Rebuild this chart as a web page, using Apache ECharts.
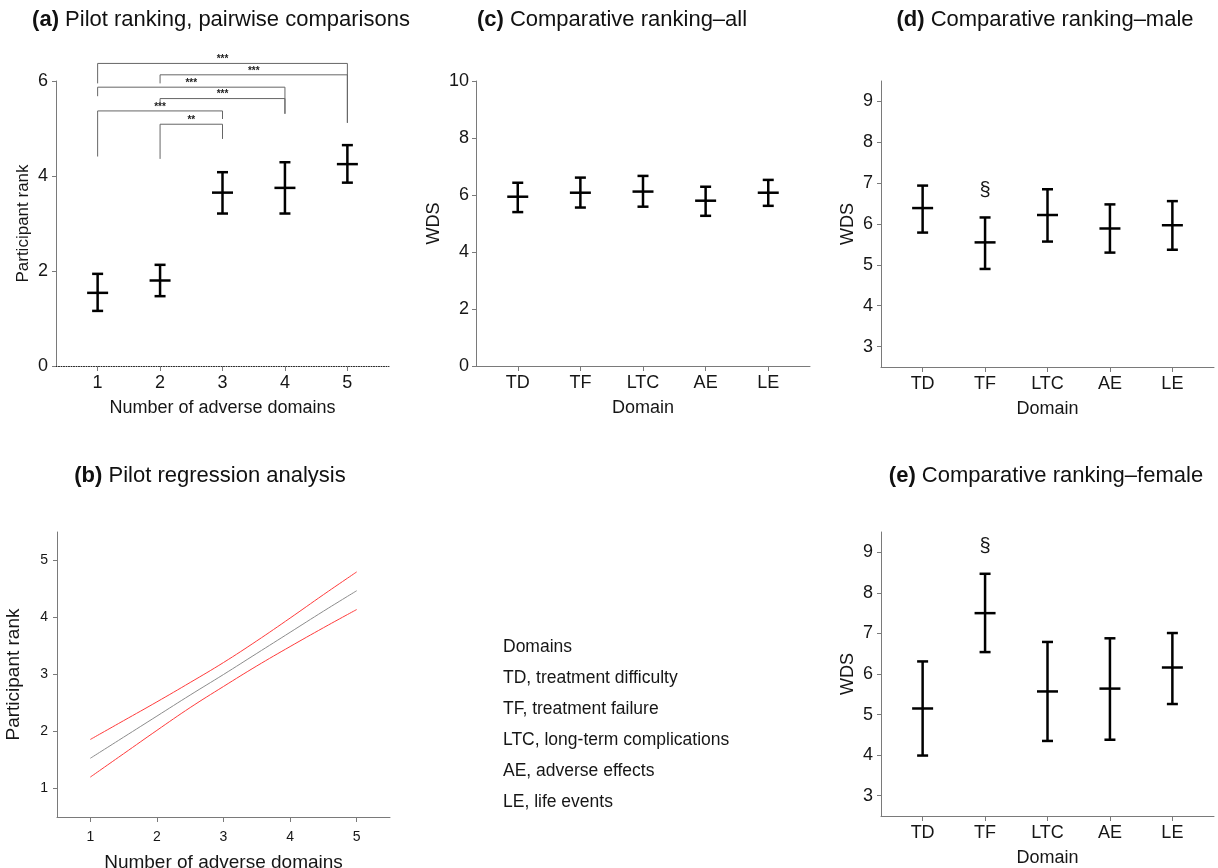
<!DOCTYPE html>
<html>
<head>
<meta charset="utf-8">
<title>Pilot and comparative ranking</title>
<script src="https://cdn.jsdelivr.net/npm/echarts@6/dist/echarts.min.js"></script>
<style>
  html, body { margin: 0; padding: 0; background: #fff; }
  #main { width: 1218px; height: 868px; }
</style>
</head>
<body>
<div id="main"></div>
<script>
// ---- data ----
var domains = ['TD', 'TF', 'LTC', 'AE', 'LE'];
var adverseCount = [1, 2, 3, 4, 5];

// (a) pilot ranking: mean and error range per number of adverse domains
var aMean = [1.54, 1.80, 3.65, 3.75, 4.25];
var aLow  = [1.16, 1.47, 3.21, 3.21, 3.86];
var aHigh = [1.94, 2.13, 4.08, 4.29, 4.65];

// (a) pairwise comparison brackets
var bracketFrom = [1, 2, 1, 2, 1, 2];
var bracketTo   = [5, 5, 4, 4, 3, 3];
var bracketTop  = [6.37, 6.13, 5.87, 5.63, 5.37, 5.09];
var bracketLegL = [5.95, 5.95, 5.68, 5.53, 4.41, 4.36];
var bracketLegR = [5.12, 5.12, 5.31, 5.31, 5.20, 4.78];
var bracketText = ['***', '***', '***', '***', '***', '**'];

// (b) regression fit and confidence limits
var regX     = [1, 1.5, 2, 2.5, 3, 3.5, 4, 4.5, 5];
var regMid   = [1.53, 1.90, 2.27, 2.64, 3.00, 3.37, 3.74, 4.11, 4.47];
var regUpper = [1.86, 2.19, 2.52, 2.86, 3.21, 3.59, 3.99, 4.40, 4.80];
var regLower = [1.20, 1.61, 2.02, 2.42, 2.79, 3.15, 3.49, 3.82, 4.14];

// (c) all
var cMean = [5.94, 6.08, 6.12, 5.80, 6.08];
var cLow  = [5.40, 5.56, 5.59, 5.27, 5.62];
var cHigh = [6.43, 6.61, 6.67, 6.29, 6.53];

// (d) male
var dMean = [6.39, 5.55, 6.22, 5.89, 5.97];
var dLow  = [5.79, 4.90, 5.57, 5.30, 5.37];
var dHigh = [6.94, 6.16, 6.85, 6.48, 6.56];
var dMark = ['', '\u00a7', '', '', ''];

// (e) female
var eMean = [5.15, 7.50, 5.57, 5.64, 6.16];
var eLow  = [3.99, 6.54, 4.35, 4.38, 5.26];
var eHigh = [6.31, 8.47, 6.79, 6.88, 7.01];
var eMark = ['', '\u00a7', '', '', ''];

var legendLines = [
  'Domains',
  'TD, treatment difficulty',
  'TF, treatment failure',
  'LTC, long-term complications',
  'AE, adverse effects',
  'LE, life events'
];

var FONT = '"Liberation Sans", Arial, sans-serif';
var AXIS_GREY = '#7a7a7a';
var TEXT = '#161616';

function errorSeries(gridIdx, means, lows, highs, marks) {
  var rows = means.map(function (m, i) { return [i + 1, m, lows[i], highs[i]]; });
  return {
    type: 'custom',
    xAxisIndex: gridIdx,
    yAxisIndex: gridIdx,
    clip: false,
    silent: true,
    data: rows,
    renderItem: function (params, api) {
      var x = api.value(0);
      var pm = api.coord([x, api.value(1)]);
      var pl = api.coord([x, api.value(2)]);
      var ph = api.coord([x, api.value(3)]);
      var cap = 5.5, half = 10.5;
      function seg(x1, y1, x2, y2) {
        return { type: 'line', shape: { x1: x1, y1: y1, x2: x2, y2: y2 },
                 style: { stroke: '#000', lineWidth: 2.5 } };
      }
      var kids = [
        seg(pm[0], ph[1], pm[0], pl[1]),
        seg(pm[0] - cap, ph[1], pm[0] + cap, ph[1]),
        seg(pm[0] - cap, pl[1], pm[0] + cap, pl[1]),
        seg(pm[0] - half, pm[1], pm[0] + half, pm[1])
      ];
      if (marks && marks[params.dataIndex]) {
        kids.push({ type: 'text', x: pm[0], y: ph[1] - 27,
          style: { text: marks[params.dataIndex], fill: TEXT, font: '20px ' + FONT,
                   textAlign: 'center', textVerticalAlign: 'middle' } });
      }
      return { type: 'group', children: kids };
    }
  };
}

function xAxisCfg(gridIdx, min, max, ticks, fontSize, margin, name, nameGap, nameSize, formatter, dotted) {
  return {
    type: 'value', gridIndex: gridIdx, min: min, max: max,
    name: name, nameLocation: 'middle', nameGap: nameGap,
    nameTextStyle: { fontFamily: FONT, fontSize: nameSize, color: TEXT },
    splitLine: { show: false },
    axisLine: { show: true, onZero: false,
      lineStyle: dotted ? { color: '#222', width: 1, type: [1, 1.5] } : { color: AXIS_GREY, width: 1 } },
    axisTick: { show: true, customValues: ticks, length: 5, lineStyle: { color: AXIS_GREY } },
    axisLabel: { customValues: ticks, fontFamily: FONT, fontSize: fontSize, color: TEXT, margin: margin,
      formatter: formatter || function (v) { return String(v); } }
  };
}

function yAxisCfg(gridIdx, min, max, ticks, fontSize, margin, name, nameGap, nameSize) {
  return {
    type: 'value', gridIndex: gridIdx, min: min, max: max,
    name: name, nameLocation: 'middle', nameGap: nameGap, nameRotate: 90,
    nameTextStyle: { fontFamily: FONT, fontSize: nameSize, color: TEXT },
    splitLine: { show: false },
    axisLine: { show: true, lineStyle: { color: AXIS_GREY, width: 1 } },
    axisTick: { show: true, customValues: ticks, length: 4, lineStyle: { color: AXIS_GREY } },
    axisLabel: { customValues: ticks, fontFamily: FONT, fontSize: fontSize, color: TEXT, margin: margin }
  };
}

function domainName(v) { return domains[Math.round(v) - 1]; }

function panelTitle(tag, text, cx, cy) {
  return {
    text: '{b|' + tag + '} ' + text,
    left: cx, top: cy - 12, textAlign: 'center', padding: 0,
    textStyle: { fontFamily: FONT, fontSize: 22, fontWeight: 'normal', color: '#111',
      rich: { b: { fontFamily: FONT, fontSize: 22, fontWeight: 'bold', color: '#111' } } }
  };
}

function regLine(ys, color) {
  return {
    type: 'line', xAxisIndex: 1, yAxisIndex: 1, symbol: 'none', silent: true, smooth: 0.4,
    data: regX.map(function (x, i) { return [x, ys[i]]; }),
    lineStyle: { color: color, width: 1 }
  };
}

var bracketRows = bracketFrom.map(function (f, i) {
  return [f, bracketTo[i], bracketTop[i], bracketLegL[i], bracketLegR[i]];
});

var chart = echarts.init(document.getElementById('main'), null, { renderer: 'canvas' });

var option = {
  backgroundColor: '#fff',
  animation: false,
  title: [
    panelTitle('(a)', 'Pilot ranking, pairwise comparisons', 221, 21),
    panelTitle('(b)', 'Pilot regression analysis', 210, 477),
    panelTitle('(c)', 'Comparative ranking\u2013all', 612, 21),
    panelTitle('(d)', 'Comparative ranking\u2013male', 1045, 21),
    panelTitle('(e)', 'Comparative ranking\u2013female', 1046, 477)
  ],
  grid: [
    { left: 56, top: 81, width: 333, height: 285, outerBoundsMode: 'none' },
    { left: 57, top: 532, width: 333, height: 285, outerBoundsMode: 'none' },
    { left: 476, top: 81, width: 334, height: 285, outerBoundsMode: 'none' },
    { left: 881, top: 81, width: 333, height: 286, outerBoundsMode: 'none' },
    { left: 881, top: 532, width: 333, height: 284, outerBoundsMode: 'none' }
  ],
  xAxis: [
    xAxisCfg(0, 1 / 3, 17 / 3, adverseCount, 18, 8, 'Number of adverse domains', 33, 18, null, true),
    xAxisCfg(1, 0.5, 5.5, adverseCount, 14, 13, 'Number of adverse domains', 36, 19, null, false),
    xAxisCfg(2, 1 / 3, 17 / 3, adverseCount, 18, 8, 'Domain', 33, 18, domainName, false),
    xAxisCfg(3, 1 / 3, 17 / 3, adverseCount, 18, 8, 'Domain', 33, 18, domainName, false),
    xAxisCfg(4, 1 / 3, 17 / 3, adverseCount, 18, 8, 'Domain', 33, 18, domainName, false)
  ],
  yAxis: [
    yAxisCfg(0, 0, 6, [0, 2, 4, 6], 18, 8, 'Participant rank', 24, 17),
    yAxisCfg(1, 0.5, 5.5, [1, 2, 3, 4, 5], 14, 9, 'Participant rank', 34, 19),
    yAxisCfg(2, 0, 10, [0, 2, 4, 6, 8, 10], 18, 7, 'WDS', 33, 18),
    yAxisCfg(3, 2.5, 9.5, [3, 4, 5, 6, 7, 8, 9], 18, 8, 'WDS', 24, 18),
    yAxisCfg(4, 2.5, 9.5, [3, 4, 5, 6, 7, 8, 9], 18, 8, 'WDS', 24, 18)
  ],
  series: [
    errorSeries(0, aMean, aLow, aHigh, null),
    {
      type: 'custom', xAxisIndex: 0, yAxisIndex: 0, clip: false, silent: true,
      data: bracketRows,
      renderItem: function (params, api) {
        var l1 = api.coord([api.value(0), api.value(3)]);
        var t1 = api.coord([api.value(0), api.value(2)]);
        var t2 = api.coord([api.value(1), api.value(2)]);
        var l2 = api.coord([api.value(1), api.value(4)]);
        return { type: 'group', children: [
          { type: 'polyline', shape: { points: [l1, t1, t2, l2] },
            style: { stroke: '#666', lineWidth: 1, fill: null } },
          { type: 'text', x: (t1[0] + t2[0]) / 2, y: t1[1] - 4,
            style: { text: bracketText[params.dataIndex], fill: '#222', font: 'bold 10px ' + FONT,
                     textAlign: 'center', textVerticalAlign: 'middle' } }
        ] };
      }
    },
    regLine(regUpper, '#ff3b3b'),
    regLine(regMid, '#8c8c8c'),
    regLine(regLower, '#ff3b3b'),
    errorSeries(2, cMean, cLow, cHigh, null),
    errorSeries(3, dMean, dLow, dHigh, dMark),
    errorSeries(4, eMean, eLow, eHigh, eMark)
  ],
  graphic: legendLines.map(function (t, i) {
    return { type: 'text', left: 503, top: 638 + i * 31, silent: true,
      style: { text: t, fill: TEXT, font: '17.5px ' + FONT } };
  })
};

chart.setOption(option);
</script>
</body>
</html>
